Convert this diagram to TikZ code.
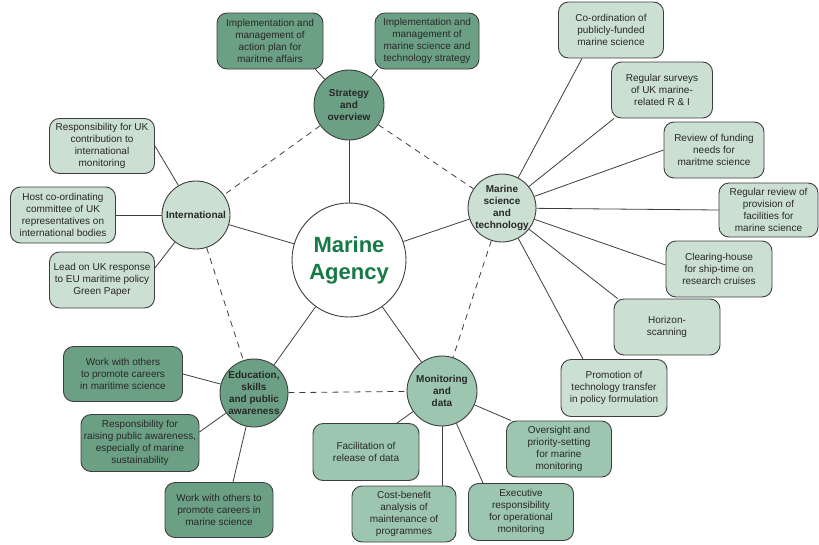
\documentclass[tikz,border=0pt]{standalone}
\usepackage{fontspec}
\setmainfont{Liberation Sans}
\usetikzlibrary{math}
\usetikzlibrary{backgrounds}

\definecolor{darkfill}{RGB}{108,160,132}
\definecolor{midfill}{RGB}{156,198,176}
\definecolor{lightfill}{RGB}{204,223,211}
\definecolor{agencygreen}{RGB}{22,122,70}
\definecolor{edgegray}{RGB}{62,62,62}
\definecolor{textgray}{RGB}{40,40,40}

\begin{document}
\begin{tikzpicture}[x=1pt,y=-1pt]

\tikzmath{
	\W = 105;
	\H = 56;
}

\tikzset{topic/.style={
    circle, draw=edgegray, line width=0.9pt,
    inner sep=0pt, minimum size=68pt,
    align=center, text=textgray,
    font=\fontsize{10}{12}\selectfont\bfseries
  },
  task/.style={
    rectangle, rounded corners=10pt, draw=edgegray, line width=0.9pt,
    minimum width=\W pt, minimum height=\H pt, inner sep=1pt,
    align=center, text=textgray,
    font=\fontsize{10}{12}\selectfont
  },
  link/.style={draw=edgegray, line width=0.8pt},
  peer/.style={draw=edgegray, line width=0.8pt, dash pattern=on 6pt off 5pt}
}

\useasboundingbox (0,0) rectangle (819,544);

% hubs
\node[topic, fill=white, minimum size=114pt, text=agencygreen,
  font=\fontsize{22}{27}\selectfont\bfseries] (agency) at (349,260) {Marine\\Agency};
\node[topic, fill=darkfill, minimum size=70pt] (strategy) at (349,105) {Strategy\\and\\overview};
\node[topic, fill=lightfill] (intl) at (196,215) {International};
\node[topic, fill=lightfill, inner sep=-2pt] (science) at (502,208) {Marine\\science\\and\\technology};
\node[topic, fill=darkfill] (edu) at (254,393) {Education,\\skills\\and public\\awareness};
\node[topic, fill=midfill, minimum size=70pt] (monitor) at (442,391) {Monitoring\\and\\data};

% strategy and overview
\node[task, fill=darkfill, minimum width=106pt] (plan) at (270,41) {Implementation and\\management of\\action plan for\\maritme affairs};
\node[task, fill=darkfill, minimum width=104pt] (strat) at (427,41) {Implementation and\\management of\\marine science and\\technology strategy};

% international
\node[task, fill=lightfill, minimum height=55pt] (resp) at (102,146) {Responsibility for UK\\contribution to\\international\\monitoring};
\node[task, fill=lightfill] (host) at (63,215) {Host co-ordinating\\committee of UK\\representatives on\\international bodies};
\node[task, fill=lightfill] (lead) at (102,280) {Lead on UK response\\to EU maritime policy\\Green Paper};

% marine science and technology
\node[task, fill=lightfill] (coord) at (611,30) {Co-ordination of\\publicly-funded\\marine science};
\node[task, fill=lightfill, minimum width=101pt] (surveys) at (662,90) {Regular surveys\\of UK marine-\\related R \& I};
\node[task, fill=lightfill, minimum width=100pt] (funding) at (714,150) {Review of funding\\needs for\\maritme science};
\node[task, fill=lightfill, minimum width=99pt, minimum height=54pt] (facilities) at (768.5,210) {Regular review of\\provision of\\facilities for\\marine science};
\node[task, fill=lightfill, minimum width=106pt] (clearing) at (719,269) {Clearing-house\\for ship-time on\\research cruises};
\node[task, fill=lightfill, minimum width=106pt] (horizon) at (667,327) {Horizon-\\scanning};
\node[task, fill=lightfill, minimum width=106pt, minimum height=57pt] (transfer) at (614,388) {Promotion of\\technology transfer\\in policy formulation};

% education, skills and public awareness
\node[task, fill=darkfill, minimum width=119pt, minimum height=55pt] (careersa) at (123,374) {Work with others\\to promote careers\\in maritime science};
\node[task, fill=darkfill, minimum width=118pt, minimum height=57pt] (aware) at (140,443) {Responsibility for\\raising public awareness,\\especially of marine\\sustainability};
\node[task, fill=darkfill, minimum width=108pt, minimum height=55pt] (careersb) at (219,510) {Work with others to\\promote careers in\\marine science};

% monitoring and data
\node[task, fill=midfill, minimum width=106pt, minimum height=57pt] (release) at (366,452) {Facilitation of\\release of data};
\node[task, fill=midfill, minimum width=104pt] (costben) at (404,514) {Cost-benefit\\analysis of\\maintenance of\\programmes};
\node[task, fill=midfill, minimum height=57pt] (exec) at (521,512) {Executive\\responsibility\\for operational\\monitoring};
\node[task, fill=midfill] (oversight) at (559,449) {Oversight and\\priority-setting\\for marine\\monitoring};

\begin{pgfonlayer}{background}
\draw[link] (agency) -- (strategy);
\draw[link] (agency) -- (intl);
\draw[link] (agency) -- (science);
\draw[link] (agency) -- (edu);
\draw[link] (agency) -- (monitor);

\draw[peer] (strategy) -- (intl);
\draw[peer] (strategy) -- (science);
\draw[peer] (intl) -- (edu);
\draw[peer] (science) -- (monitor);
\draw[peer] (edu) -- (monitor);

\draw[link] (strategy) -- ([xshift=-8pt]plan.south east);
\draw[link] (strategy) -- ([xshift=3pt]strat.south west);

\draw[link] (intl) -- (resp.east);
\draw[link] (intl) -- (host.east);
\draw[link] (intl) -- ([yshift=12pt]lead.east);

\draw[link] (science) -- ([xshift=-29pt]coord.south);
\draw[link] (science) -- ([xshift=3pt]surveys.south west);
\draw[link] (science) -- (funding.west);
\draw[link] (science) -- (facilities.west);
\draw[link] (science) -- ([yshift=4pt]clearing.west);
\draw[link] (science) -- ([xshift=4pt]horizon.north west);
\draw[link] (science) -- ([xshift=-31pt]transfer.north);

\draw[link] (edu) -- (careersa.east);
\draw[link] (edu) -- ([yshift=11pt]aware.east);
\draw[link] (edu) -- ([xshift=14pt]careersb.north);

\draw[link] (monitor) -- ([xshift=31pt]release.north);
\draw[link] (monitor) -- ([xshift=38pt]costben.north);
\draw[link] (monitor) -- ([xshift=-38pt]exec.north);
\draw[link] (monitor) -- ([xshift=5pt]oversight.north west);
\end{pgfonlayer}

\end{tikzpicture}
\end{document}
